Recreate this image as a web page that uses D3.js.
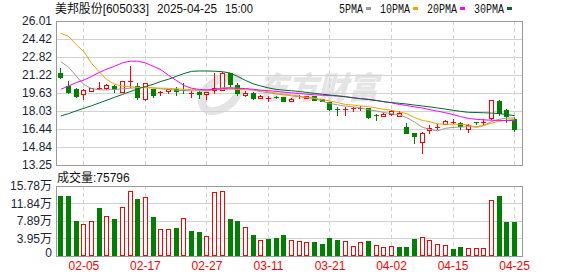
<!DOCTYPE html>
<html>
<head>
<meta charset="utf-8">
<script src="https://cdn.jsdelivr.net/npm/d3@7"></script>
<style>
    body { margin: 0; background: #fff; }
    svg { display: block; }
</style>
</head>
<body>
<div id="chart"></div>
<script>
const dates = [
    '01-23', '01-24', '01-27', '02-05', '02-06', '02-07', '02-10', '02-11', '02-12', '02-13',
    '02-14', '02-17', '02-18', '02-19', '02-20', '02-21', '02-24', '02-25', '02-26', '02-27',
    '02-28', '03-03', '03-04', '03-05', '03-06', '03-07', '03-10', '03-11', '03-12', '03-13',
    '03-14', '03-17', '03-18', '03-19', '03-20', '03-21', '03-24', '03-25', '03-26', '03-27',
    '03-28', '03-31', '04-01', '04-02', '04-03', '04-07', '04-08', '04-09', '04-10', '04-11',
    '04-14', '04-15', '04-16', '04-17', '04-18', '04-21', '04-22', '04-23', '04-24', '04-25'
];
const opens = [
    21.43, 20.25, 19.96, 19.50, 19.81, 19.98, 20.10, 20.28, 19.72, 20.65,
    20.28, 19.10, 19.98, 19.60, 19.78, 19.96, 19.93, 19.52, 19.74, 19.51,
    19.90, 19.90, 21.38, 20.34, 19.45, 19.66, 19.20, 19.17, 19.30, 19.25,
    18.92, 19.30, 19.20, 19.36, 19.10, 18.80, 18.25, 18.10, 18.20, 18.28,
    18.30, 17.70, 17.60, 17.75, 17.62, 16.64, 16.05, 15.31, 16.35, 16.50,
    16.88, 16.98, 17.00, 16.44, 17.02, 16.98, 17.39, 18.92, 18.12, 17.33
];
const highs = [
    21.82, 20.69, 20.05, 19.95, 20.10, 20.58, 20.43, 20.32, 20.72, 22.02,
    20.49, 20.55, 20.02, 19.83, 20.01, 20.19, 20.49, 19.85, 19.80, 19.75,
    21.43, 21.50, 21.40, 20.49, 19.81, 19.70, 19.45, 19.32, 19.35, 19.30,
    19.15, 19.42, 19.40, 19.40, 19.12, 18.85, 18.36, 18.36, 18.40, 18.45,
    18.33, 17.75, 17.85, 18.12, 18.05, 16.97, 16.08, 16.20, 16.79, 16.88,
    17.20, 17.33, 17.10, 16.85, 17.10, 17.35, 19.05, 19.00, 18.21, 17.53
];
const lows = [
    20.98, 19.65, 19.28, 19.07, 19.78, 19.95, 20.01, 19.74, 19.70, 20.16,
    19.07, 19.05, 19.28, 19.42, 19.66, 19.42, 19.63, 19.30, 19.16, 19.07,
    19.60, 19.88, 20.25, 19.45, 19.36, 19.10, 19.18, 18.95, 19.15, 18.90,
    18.90, 19.20, 19.18, 19.00, 18.88, 18.12, 17.70, 17.70, 18.00, 18.10,
    17.42, 17.20, 17.57, 17.72, 17.55, 16.08, 15.23, 14.34, 16.11, 16.40,
    16.85, 16.95, 16.40, 16.20, 16.85, 16.90, 17.35, 17.68, 17.09, 16.29
];
const closes = [
    21.02, 19.72, 19.36, 19.88, 20.06, 20.03, 20.34, 19.96, 20.69, 20.72,
    19.25, 20.49, 19.48, 19.74, 19.96, 19.81, 19.85, 19.60, 19.51, 19.69,
    20.07, 21.43, 20.43, 19.62, 19.66, 19.21, 19.38, 19.20, 19.18, 18.92,
    19.12, 19.33, 19.36, 19.03, 18.90, 18.21, 18.16, 18.18, 18.27, 18.33,
    17.50, 17.62, 17.77, 18.00, 17.90, 16.11, 15.86, 16.06, 16.57, 16.58,
    17.15, 17.04, 16.70, 16.79, 16.95, 17.10, 19.01, 17.90, 17.55, 16.47
];
const volumes = [
    135900, 135900, 78900, 72100, 78900, 108200, 90200, 83400, 110400, 146500,
    128500, 133000, 87900, 60900, 60900, 63100, 85700, 56400, 54100, 45100,
    144300, 146500, 83400, 78900, 65400, 47300, 36100, 38300, 40600, 47300,
    36100, 33800, 31600, 31600, 27000, 40600, 36100, 33800, 22500, 31600,
    33800, 24800, 20300, 22500, 20300, 20300, 38300, 42800, 36100, 27000,
    24800, 15800, 20300, 18000, 18000, 18000, 126200, 135900, 77000, 75796
];
const ma5 = [
    22.40, 21.92, 21.12, 20.38, 20.02, 19.92, 19.90, 19.95, 20.00, 20.05,
    20.10, 20.13, 20.08, 20.00, 19.96, 19.88, 19.83, 19.83, 19.83, 19.83,
    19.95, 20.10, 20.12, 20.06, 20.00, 19.88, 19.75, 19.65, 19.55, 19.48,
    19.38, 19.30, 19.22, 19.14, 18.90, 18.70, 18.58, 18.47, 18.40, 18.30,
    18.15, 18.05, 17.90, 17.80, 17.70, 17.45, 17.05, 16.60, 16.40, 16.28,
    16.50, 16.58, 16.62, 16.64, 16.64, 16.75, 17.10, 17.30, 17.40, 17.41
];
const ma10 = [
    24.92, 24.65, 23.90, 23.30, 22.25, 21.50, 20.80, 20.40, 20.25, 20.18,
    20.13, 20.10, 20.08, 20.06, 20.04, 20.00, 19.96, 19.93, 19.90, 19.90,
    19.92, 19.95, 19.96, 19.95, 19.92, 19.90, 19.85, 19.75, 19.62, 19.52,
    19.45, 19.35, 19.25, 19.18, 19.05, 18.92, 18.78, 18.62, 18.56, 18.48,
    18.42, 18.30, 18.19, 18.10, 17.95, 17.80, 17.45, 17.20, 17.08, 16.90,
    16.86, 16.86, 16.86, 16.80, 16.57, 16.75, 16.95, 17.13, 17.22, 17.30
];
const ma20 = [
    19.96, 20.25, 20.55, 20.78, 21.10, 21.45, 21.75, 22.00, 22.30, 22.45,
    22.45, 22.30, 22.00, 21.70, 21.20, 20.75, 20.30, 20.05, 19.95, 19.90,
    19.95, 20.02, 20.06, 20.05, 20.02, 19.96, 19.88, 19.84, 19.78, 19.70,
    19.64, 19.58, 19.52, 19.47, 19.43, 19.40, 19.36, 19.30, 19.22, 19.14,
    19.08, 18.98, 18.86, 18.76, 18.62, 18.52, 18.40, 18.30, 18.15, 18.02,
    17.88, 17.72, 17.54, 17.38, 17.30, 17.25, 17.22, 17.20, 17.19, 17.19
];
const ma30 = [
    17.60, 17.80, 18.05, 18.28, 18.50, 18.75, 19.00, 19.25, 19.50, 19.75,
    20.00, 20.20, 20.40, 20.65, 20.85, 21.10, 21.35, 21.55, 21.58, 21.58,
    21.56, 21.52, 21.40, 21.10, 20.75, 20.45, 20.25, 20.08, 19.95, 19.88,
    19.83, 19.76, 19.68, 19.60, 19.52, 19.45, 19.38, 19.30, 19.20, 19.12,
    19.05, 18.96, 18.86, 18.78, 18.72, 18.65, 18.56, 18.48, 18.40, 18.30,
    18.20, 18.10, 18.00, 17.92, 17.90, 17.88, 17.85, 17.80, 17.72, 17.62
];
const maNames = ['5PMA', '10PMA', '20PMA', '30PMA'];
const priceTicks = [26.01, 24.42, 22.82, 21.22, 19.63, 18.03, 16.44, 14.84, 13.25];
const volumeTicks = [0, 39500, 78900, 118400, 157800];
const volumeTickLabels = ['0', '3.95万', '7.89万', '11.84万', '15.78万'];
const dateTicks = ['02-05', '02-17', '02-27', '03-11', '03-21', '04-02', '04-15', '04-25'];
const stockName = '美邦股份[605033]';
const stockDay = '2025-04-25';
const stockTime = '15:00';

const WIDTH = 578;
const HEIGHT = 276;
const PLOT_LEFT = 56;
const PLOT_RIGHT = 522;
const PRICE_TOP = 21;
const PRICE_BOTTOM = 165;
const VOLUME_TOP = 186;
const VOLUME_BOTTOM = 256;
const UP_COLOR = '#ff0000';
const DOWN_COLOR = '#008000';
const MA_COLORS = ['#9a9a9a', '#f4a300', '#ff00ff', '#006a30'];
const GRID_COLOR = '#d2d2d2';
const FRAME_COLOR = '#999999';
const LABEL_COLOR = '#1b2436';
const WATERMARK_COLOR = '#e4e4e4';
const FONT = '"Liberation Sans", "Noto Sans CJK SC", sans-serif';
const MONO_FONT = '"Liberation Mono", "Noto Sans CJK SC", monospace';

class KLineChart {

    // Main
    init() {
        this.svg = this.createContainer();
        this.initScales();
        this.drawWatermark();
        this.drawGrid();
        this.drawPriceAxis();
        this.drawVolumeAxis();
        this.drawDateAxis();
        this.drawCandles();
        this.drawMovingAverages();
        this.drawVolumes();
        this.drawFrames();
        this.drawHeader();
        this.drawLegend();
    }

    createContainer() {
        return d3.select('#chart').append('svg')
            .attr('width', WIDTH)
            .attr('height', HEIGHT)
            .attr('font-family', FONT)
            .attr('font-size', 12);
    }

    initScales() {
        this.x = d3.scaleBand()
            .domain(dates)
            .range([57, 518.4])
            .paddingInner(0.35)
            .paddingOuter(0.175);
        this.y = d3.scaleLinear()
            .domain([d3.min(priceTicks), d3.max(priceTicks)])
            .range([PRICE_BOTTOM, PRICE_TOP]);
        this.yVolume = d3.scaleLinear()
            .domain([0, d3.max(volumeTicks)])
            .range([VOLUME_BOTTOM, VOLUME_TOP]);
    }

    center(i) {
        return this.x(dates[i]) + this.x.bandwidth() / 2;
    }

    barLeft(i) {
        return Math.round(this.center(i) - 2.5);
    }

    crisp(v) {
        return Math.round(v) + 0.5;
    }

    drawWatermark() {
        const g = this.svg.append('g').attr('fill', 'none');
        // logo swoosh, then the brand name
        g.append('path')
            .attr('d', 'M238,78 C214,74 197,93 203,106 C209,117 232,109 239,92')
            .attr('stroke', WATERMARK_COLOR)
            .attr('stroke-width', 8)
            .attr('stroke-linecap', 'round');
        g.append('text')
            .attr('x', 258)
            .attr('y', 99)
            .attr('fill', WATERMARK_COLOR)
            .attr('font-family', '"Noto Sans CJK SC", sans-serif')
            .attr('font-size', 31)
            .attr('font-weight', 900)
            .attr('font-style', 'italic')
            .attr('textLength', 120)
            .attr('lengthAdjust', 'spacingAndGlyphs')
            .text('东方财富');
    }

    drawGrid() {
        const g = this.svg.append('g').attr('stroke', GRID_COLOR).attr('shape-rendering', 'crispEdges');
        g.append('g').selectAll('line').data(priceTicks).join('line')
            .attr('x1', PLOT_LEFT).attr('x2', PLOT_RIGHT)
            .attr('y1', d => this.crisp(this.y(d)))
            .attr('y2', d => this.crisp(this.y(d)));
        g.append('g').selectAll('line').data(volumeTicks).join('line')
            .attr('x1', PLOT_LEFT).attr('x2', PLOT_RIGHT)
            .attr('y1', d => this.crisp(this.yVolume(d)))
            .attr('y2', d => this.crisp(this.yVolume(d)));
        const tickIndexes = dateTicks.map(d => dates.indexOf(d));
        [[PRICE_TOP, PRICE_BOTTOM], [VOLUME_TOP, VOLUME_BOTTOM]].forEach(([top, bottom]) => {
            g.append('g').selectAll('line').data(tickIndexes).join('line')
                .attr('stroke-dasharray', '4,3')
                .attr('x1', i => this.barLeft(i) + 2.5)
                .attr('x2', i => this.barLeft(i) + 2.5)
                .attr('y1', top)
                .attr('y2', bottom);
        });
    }

    styleAxis(g) {
        g.attr('font-family', FONT).attr('font-size', 12);
        g.select('.domain').remove();
        g.selectAll('.tick line').remove();
    }

    drawPriceAxis() {
        const axis = d3.axisLeft(this.y)
            .tickValues(priceTicks)
            .tickSize(0)
            .tickPadding(4)
            .tickFormat(d3.format('.2f'));
        const g = this.svg.append('g')
            .attr('transform', `translate(${PLOT_LEFT},0)`)
            .call(axis);
        this.styleAxis(g);
        g.selectAll('text').attr('fill', LABEL_COLOR);
    }

    drawVolumeAxis() {
        const axis = d3.axisLeft(this.yVolume)
            .tickValues(volumeTicks)
            .tickSize(0)
            .tickPadding(4)
            .tickFormat((d, i) => volumeTickLabels[i]);
        const g = this.svg.append('g')
            .attr('transform', `translate(${PLOT_LEFT},0)`)
            .call(axis);
        this.styleAxis(g);
        g.selectAll('text').attr('fill', LABEL_COLOR);
        g.selectAll('.tick').filter(d => d === 0).select('text').attr('y', -3);
    }

    drawDateAxis() {
        const axis = d3.axisBottom(this.x)
            .tickValues(dateTicks)
            .tickSize(0)
            .tickPadding(5);
        const g = this.svg.append('g')
            .attr('transform', `translate(0,${VOLUME_BOTTOM})`)
            .call(axis);
        this.styleAxis(g);
        g.selectAll('text').attr('fill', UP_COLOR);
    }

    drawCandles() {
        const bars = dates.map((date, i) => ({
            i, open: opens[i], high: highs[i], low: lows[i], close: closes[i]
        }));
        const g = this.svg.append('g').attr('shape-rendering', 'crispEdges');
        const candle = g.selectAll('g').data(bars).join('g')
            .attr('stroke', d => d.close >= d.open ? UP_COLOR : DOWN_COLOR);

        candle.append('line')
            .attr('x1', d => this.barLeft(d.i) + 2.5)
            .attr('x2', d => this.barLeft(d.i) + 2.5)
            .attr('y1', d => Math.round(this.y(d.high)))
            .attr('y2', d => Math.round(this.y(d.low)) + 1);

        candle.each((d, idx, nodes) => {
            const sel = d3.select(nodes[idx]);
            const left = this.barLeft(d.i);
            const top = Math.round(this.y(Math.max(d.open, d.close)));
            const bottom = Math.round(this.y(Math.min(d.open, d.close)));
            if (bottom - top < 2) {
                sel.append('line')
                    .attr('x1', left).attr('x2', left + 5)
                    .attr('y1', top + 0.5).attr('y2', top + 0.5);
            } else if (d.close >= d.open) {
                sel.append('rect')
                    .attr('x', left + 0.5).attr('y', top + 0.5)
                    .attr('width', 4).attr('height', bottom - top)
                    .attr('fill', '#fff');
            } else {
                sel.append('rect')
                    .attr('x', left).attr('y', top)
                    .attr('width', 5).attr('height', bottom - top + 1)
                    .attr('fill', DOWN_COLOR)
                    .attr('stroke', 'none');
            }
        });
    }

    drawMovingAverages() {
        const line = d3.line()
            .x((d, i) => this.center(i))
            .y(d => this.y(d));
        const g = this.svg.append('g').attr('fill', 'none').attr('stroke-width', 1);
        [ma5, ma10, ma20, ma30].forEach((series, k) => {
            g.append('path')
                .attr('d', line(series))
                .attr('stroke', MA_COLORS[k]);
        });
    }

    drawVolumes() {
        const g = this.svg.append('g').attr('shape-rendering', 'crispEdges');
        volumes.forEach((v, i) => {
            const up = i === 0 ? closes[i] >= opens[i] : closes[i] >= closes[i - 1];
            const left = this.barLeft(i);
            const top = Math.round(this.yVolume(v));
            if (up) {
                g.append('rect')
                    .attr('x', left + 0.5).attr('y', top + 0.5)
                    .attr('width', 4).attr('height', VOLUME_BOTTOM - top - 1)
                    .attr('fill', '#fff')
                    .attr('stroke', UP_COLOR);
            } else {
                g.append('rect')
                    .attr('x', left).attr('y', top)
                    .attr('width', 5).attr('height', VOLUME_BOTTOM - top)
                    .attr('fill', DOWN_COLOR);
            }
        });
    }

    drawFrames() {
        [[PRICE_TOP, PRICE_BOTTOM], [VOLUME_TOP, VOLUME_BOTTOM]].forEach(([top, bottom]) => {
            this.svg.append('rect')
                .attr('x', PLOT_LEFT + 0.5)
                .attr('y', top + 0.5)
                .attr('width', PLOT_RIGHT - PLOT_LEFT)
                .attr('height', bottom - top)
                .attr('fill', 'none')
                .attr('stroke', FRAME_COLOR)
                .attr('shape-rendering', 'crispEdges');
        });
    }

    drawHeader() {
        const g = this.svg.append('g').attr('fill', '#111');
        [[stockName, 55, 94], [stockDay, 157, 60], [stockTime, 225, 28]].forEach(([label, x, len]) => {
            g.append('text')
                .attr('x', x)
                .attr('y', 13)
                .attr('textLength', len)
                .attr('lengthAdjust', 'spacingAndGlyphs')
                .text(label);
        });
        g.append('text')
            .attr('x', 57)
            .attr('y', 182)
            .text(`成交量:${volumes[volumes.length - 1]}`);
    }

    drawLegend() {
        const g = this.svg.append('g').attr('font-family', MONO_FONT);
        let x = 339;
        maNames.forEach((name, k) => {
            const len = name.length * 6;
            g.append('text')
                .attr('x', x)
                .attr('y', 13)
                .attr('fill', '#111')
                .attr('textLength', len)
                .attr('lengthAdjust', 'spacingAndGlyphs')
                .text(name);
            g.append('rect')
                .attr('x', x + len + 3)
                .attr('y', 7)
                .attr('width', 5)
                .attr('height', 3)
                .attr('fill', MA_COLORS[k]);
            x += len + 3 + 5 + 9;
        });
    }
}

new KLineChart().init();
</script>
</body>
</html>
